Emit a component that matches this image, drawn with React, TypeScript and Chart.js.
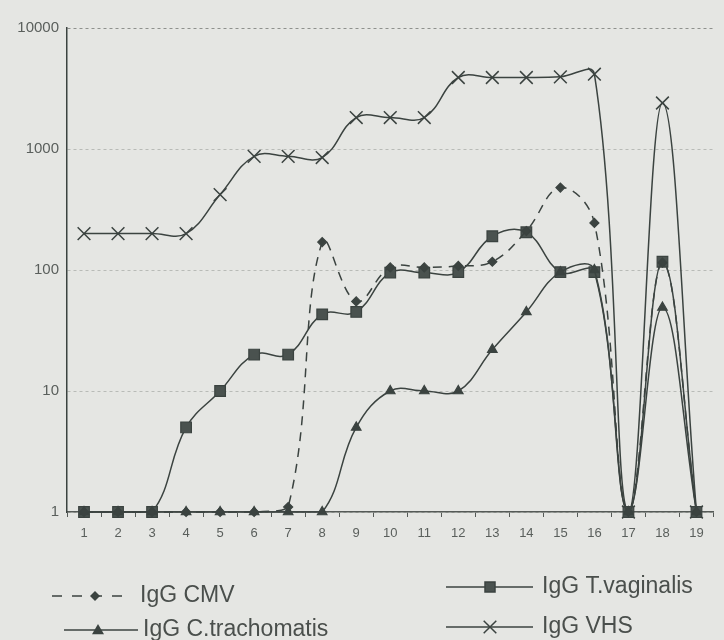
import React, { useEffect, useRef } from "react";
import { Chart, registerables } from "chart.js";

Chart.register(...registerables);

const categories = ["1","2","3","4","5","6","7","8","9","10","11","12","13","14","15","16","17","18","19"];
const yTickValues = [1, 10, 100, 1000, 10000];
const yTickLabels = ["1", "10", "100", "1000", "10000"];

const cmvValues = [1, 1, 1, 1, 1, 1, 1.1, 170, 55, 105, 105, 108, 117, 210, 480, 245, 1, 115, 1];
const tvagValues = [1, 1, 1, 5, 10, 20, 20, 43, 45, 95, 95, 96, 190, 205, 96, 96, 1, 117, 1];
const ctrValues = [1, 1, 1, 1, 1, 1, 1, 1, 5, 10, 10, 10, 22, 45, 96, 100, 1, 49, 1];
const vhsValues = [200, 200, 200, 200, 420, 870, 870, 850, 1820, 1820, 1820, 3900, 3900, 3900, 3950, 4150, 1, 2400, 1];

const seriesNames = ["IgG CMV", "IgG T.vaginalis", "IgG C.trachomatis", "IgG VHS"];

const BG = "#e5e6e3";
const INK = "#3b4340";
const FONT = "'Liberation Sans', Arial, sans-serif";

export default function App() {
  const ref = useRef<HTMLCanvasElement | null>(null);

  useEffect(() => {
    const canvas = ref.current;
    if (!canvas) return;

    const bgPlugin = {
      id: "bg",
      beforeDraw(chart: any) {
        const c = chart.ctx;
        c.save();
        c.fillStyle = BG;
        c.fillRect(0, 0, chart.width, chart.height);
        c.restore();
      },
    };

    const drawMarker = (c: CanvasRenderingContext2D, style: string, x: number, y: number, r: number) => {
      c.beginPath();
      if (style === "rectRot") {
        c.moveTo(x, y - r);
        c.lineTo(x + r, y);
        c.lineTo(x, y + r);
        c.lineTo(x - r, y);
        c.closePath();
        c.fill();
      } else if (style === "rect") {
        c.fillRect(x - r, y - r, 2 * r, 2 * r);
        c.strokeRect(x - r, y - r, 2 * r, 2 * r);
      } else if (style === "triangle") {
        c.moveTo(x, y - r);
        c.lineTo(x + r, y + r * 0.7);
        c.lineTo(x - r, y + r * 0.7);
        c.closePath();
        c.fill();
      } else if (style === "crossRot") {
        c.moveTo(x - r * 0.7, y - r * 0.7);
        c.lineTo(x + r * 0.7, y + r * 0.7);
        c.moveTo(x + r * 0.7, y - r * 0.7);
        c.lineTo(x - r * 0.7, y + r * 0.7);
        c.stroke();
      }
    };

    const legendPlugin = {
      id: "customLegend",
      afterDraw(chart: any) {
        const c: CanvasRenderingContext2D = chart.ctx;
        const items = [
          { name: seriesNames[0], x0: 52, x1: 128, tx: 140, mx: 95, y: 596, dash: [10, 10], style: "rectRot", r: 5 },
          { name: seriesNames[2], x0: 64, x1: 138, tx: 143, mx: 98, y: 630, dash: [], style: "triangle", r: 6 },
          { name: seriesNames[1], x0: 446, x1: 533, tx: 542, mx: 490, y: 587, dash: [], style: "rect", r: 5 },
          { name: seriesNames[3], x0: 446, x1: 533, tx: 542, mx: 490, y: 627, dash: [], style: "crossRot", r: 9 },
        ];
        c.save();
        for (const it of items) {
          c.strokeStyle = INK;
          c.fillStyle = INK;
          c.lineWidth = 1.5;
          c.setLineDash(it.dash);
          c.beginPath();
          c.moveTo(it.x0, it.y);
          c.lineTo(it.x1, it.y);
          c.stroke();
          c.setLineDash([]);
          if (it.style === "rect") c.fillStyle = "#4a524f";
          drawMarker(c, it.style, it.mx, it.y, it.r);
          c.fillStyle = "#4a4f4c";
          c.font = `23px ${FONT}`;
          c.textBaseline = "middle";
          c.textAlign = "left";
          c.fillText(it.name, it.tx, it.y);
        }
        c.restore();
      },
    };

    const common = {
      borderColor: INK,
      borderWidth: 1.5,
      pointBorderColor: INK,
      pointBorderWidth: 1.2,
      tension: 0.4,
      clip: false as any,
    };

    const chart = new Chart(canvas, {
      type: "line",
      data: {
        labels: categories,
        datasets: [
          {
            ...common,
            label: seriesNames[0],
            data: cmvValues,
            borderDash: [9, 7],
            pointStyle: "rectRot",
            pointRadius: 4.5,
            pointBackgroundColor: INK,
          },
          {
            ...common,
            label: seriesNames[2],
            data: ctrValues,
            pointStyle: "triangle",
            pointRadius: 5.5,
            pointBackgroundColor: INK,
          },
          {
            ...common,
            label: seriesNames[1],
            data: tvagValues,
            pointStyle: "rect",
            pointRadius: 7.5,
            pointBackgroundColor: "#4a524f",
          },
          {
            ...common,
            label: seriesNames[3],
            data: vhsValues,
            pointStyle: "crossRot",
            pointRadius: 9,
            pointBorderWidth: 1.5,
            pointBackgroundColor: INK,
          },
        ],
      },
      options: {
        animation: false,
        responsive: false,
        devicePixelRatio: 1,
        layout: { padding: { top: 28, left: 0, right: 0, bottom: 0 } },
        plugins: {
          legend: { display: false },
          tooltip: { enabled: false },
        },
        scales: {
          x: {
            type: "category",
            offset: true,
            grid: {
              display: true,
              drawOnChartArea: false,
              drawTicks: true,
              tickLength: 5,
              offset: true,
              color: "#555a57",
            },
            border: { display: true, color: "#555a57", width: 1.5 },
            ticks: {
              color: "#5a5f5c",
              font: { family: FONT, size: 13 },
              padding: 9,
              maxRotation: 0,
              autoSkip: false,
            },
            afterFit: (scale: any) => {
              scale.height = 128;
            },
          },
          y: {
            type: "logarithmic",
            min: 1,
            max: 10000,
            afterBuildTicks: (scale: any) => {
              scale.ticks = yTickValues.map((v) => ({ value: v }));
            },
            afterFit: (scale: any) => {
              scale.width = 67;
            },
            grid: {
              drawTicks: false,
              color: (ctx: any) => (ctx.tick && ctx.tick.value === 10000 ? "#8e918d" : "#b8bbb7"),
              lineWidth: 1,
            },
            border: { display: true, color: INK, width: 1.5, dash: [3, 3] },
            ticks: {
              color: "#5a5f5c",
              font: { family: FONT, size: 15 },
              padding: 8,
              callback: (_v: any, i: number) => yTickLabels[i],
            },
          },
        },
      },
      plugins: [bgPlugin, legendPlugin],
    } as any);

    return () => chart.destroy();
  }, []);

  return (
    <div style={{ position: "fixed", left: 0, top: 0, width: 724, height: 640, background: BG }}>
      <canvas ref={ref} width={724} height={640} style={{ display: "block" }} />
    </div>
  );
}
